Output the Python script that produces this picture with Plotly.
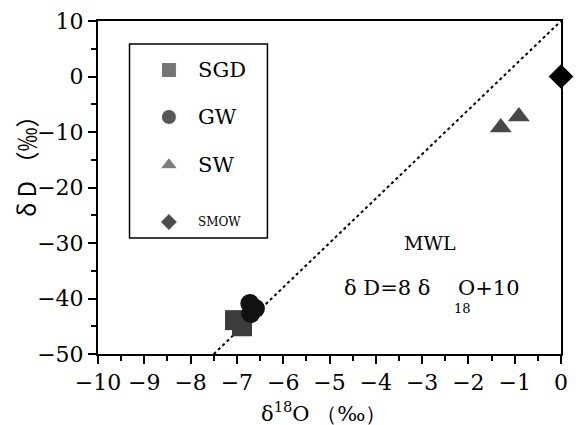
import plotly.graph_objects as go

# ---- data ----
sgd_x = [-7.04, -6.89]
sgd_y = [-43.9, -45.0]
gw_x = [-6.72, -6.70, -6.60]
gw_y = [-40.9, -42.7, -41.8]
sw_x = [-1.30, -0.91]
sw_y = [-9.2, -7.2]
smow_x = [0]
smow_y = [0]
mwl_x = [-7.5, 0]
mwl_y = [-50, 10]

legend_names = ["SGD", "GW", "SW", "SMOW"]
legend_symbols = ["square", "circle", "triangle-up", "diamond"]
legend_colors = ["#3c3c3c", "#111111", "#474747", "#000000"]

W, H = 576, 425
ML, MR, MT, MB = 98, 8, 21, 71
PW, PH = W - ML - MR, H - MT - MB


def px(p):
    return (p - ML) / PW


def py(p):
    return (H - MB - p) / PH


serif = "DejaVu Serif"

fig = go.Figure()
fig.add_trace(go.Scatter(x=mwl_x, y=mwl_y, mode="lines",
                         line=dict(color="black", width=2, dash="dot"),
                         showlegend=False, hoverinfo="skip"))
fig.add_trace(go.Scatter(x=sgd_x, y=sgd_y, mode="markers", name="SGD",
                         marker=dict(symbol="square", size=20, color=legend_colors[0]),
                         showlegend=False))
fig.add_trace(go.Scatter(x=gw_x, y=gw_y, mode="markers", name="GW",
                         marker=dict(symbol="circle", size=19, color=legend_colors[1]),
                         showlegend=False))
fig.add_trace(go.Scatter(x=sw_x, y=sw_y, mode="markers", name="SW",
                         marker=dict(symbol="triangle-up", size=19, color=legend_colors[2]),
                         showlegend=False))
fig.add_trace(go.Scatter(x=smow_x, y=smow_y, mode="markers", name="SMOW",
                         marker=dict(symbol="diamond", size=19, color=legend_colors[3]),
                         showlegend=False, cliponaxis=False))

# ---- manual legend ----
leg_rows = [py(70), py(117), py(165), py(222)]
leg_sizes = [15, 15, 15, 13]
fig.add_trace(go.Scatter(x=[px(170)] * 4, y=leg_rows, mode="markers",
                         marker=dict(symbol=legend_symbols, size=leg_sizes,
                                     color=legend_colors),
                         xaxis="x2", yaxis="y2", showlegend=False, hoverinfo="skip"))
fig.add_shape(type="rect", xref="paper", yref="paper",
              x0=px(130), x1=px(270), y0=py(238), y1=py(44),
              line=dict(color="black", width=1.5))
leg_font_sizes = [21, 21, 21, 12]
for name, yy, fs in zip(legend_names, leg_rows, leg_font_sizes):
    fig.add_annotation(x=px(197), y=yy, xref="paper", yref="paper", text=name,
                       showarrow=False, xanchor="left", yanchor="middle",
                       font=dict(family=serif, size=fs, color="black"))

# ---- texts ----
fig.add_annotation(x=px(435), y=py(243), xref="paper", yref="paper", text="MWL",
                   showarrow=False, xanchor="center", yanchor="middle",
                   font=dict(family=serif, size=19, color="black"))
fig.add_annotation(x=px(437), y=py(288), xref="paper", yref="paper", text="δ D=8 δ",
                   showarrow=False, xanchor="right", yanchor="middle",
                   font=dict(family=serif, size=21, color="black"))
fig.add_annotation(x=px(461), y=py(288), xref="paper", yref="paper", text="O+10",
                   showarrow=False, xanchor="left", yanchor="middle",
                   font=dict(family=serif, size=21, color="black"))
fig.add_annotation(x=px(468), y=py(308), xref="paper", yref="paper", text="18",
                   showarrow=False, xanchor="center", yanchor="middle",
                   font=dict(family=serif, size=13, color="black"))

fig.add_annotation(x=px(24), y=py(160), xref="paper", yref="paper", text="δ D （‰）",
                   showarrow=False, textangle=-90, xanchor="center", yanchor="middle",
                   font=dict(family="Noto Sans CJK SC", size=24, color="black"))
fig.add_annotation(x=px(327), y=py(412), xref="paper", yref="paper",
                   text="δ<sup>18</sup>O （‰）",
                   showarrow=False, xanchor="center", yanchor="middle",
                   font=dict(family=serif, size=21, color="black"))

axis_common = dict(showgrid=False, zeroline=False, ticks="outside", ticklen=8,
                   tickwidth=1.5, tickcolor="black", linecolor="black", linewidth=2,
                   showline=True, mirror=True,
                   tickfont=dict(family=serif, size=22, color="black"))

fig.update_layout(
    width=W, height=H, margin=dict(l=ML, r=MR, t=MT, b=MB),
    paper_bgcolor="white", plot_bgcolor="white", showlegend=False,
    font=dict(family=serif, size=22, color="black"),
    xaxis=dict(range=[-10, 0], dtick=1, tick0=-10,
               minor=dict(dtick=0.5, ticks="outside", ticklen=5, tickcolor="black", tickwidth=1.5),
               **axis_common),
    yaxis=dict(range=[-50, 10], dtick=10, tick0=-50,
               minor=dict(dtick=5, ticks="outside", ticklen=5, tickcolor="black", tickwidth=1.5),
               **axis_common),
    xaxis2=dict(range=[0, 1], overlaying="x", visible=False, anchor="y2"),
    yaxis2=dict(range=[0, 1], overlaying="y", visible=False, anchor="x2"),
)

fig.write_html("out.html")
